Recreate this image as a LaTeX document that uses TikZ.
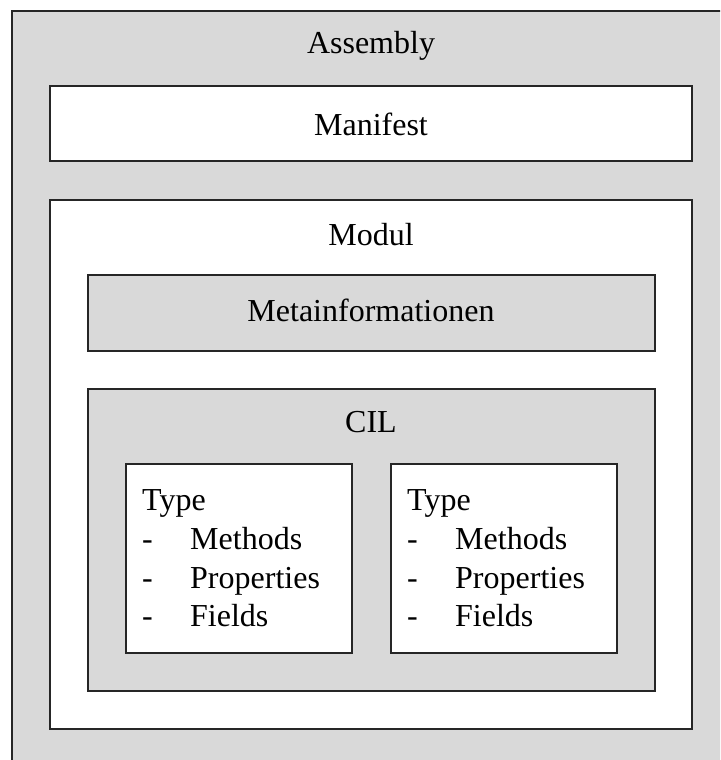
\documentclass[tikz,border=0pt]{standalone}
\usepackage{fontspec}
\setmainfont{Liberation Serif}
\definecolor{boxgray}{HTML}{D9D9D9}
\begin{document}
\begin{tikzpicture}[x=1pt,y=-1pt,
  graybox/.style={draw=black!85,line width=1.3pt,fill=boxgray},
  whitebox/.style={draw=black!85,line width=1.3pt,fill=white},
  lbl/.style={font=\fontsize{32}{38}\selectfont,anchor=base,inner sep=0pt},
  llbl/.style={font=\fontsize{32}{38}\selectfont,anchor=base west,inner sep=0pt}]
\useasboundingbox (0,0) rectangle (720,760);
\fill[white] (0,0) rectangle (720,760);
\begin{scope}
\clip (0,0) rectangle (720,760);
\draw[graybox] (12,11) rectangle (740,780);
\end{scope}
\node[lbl] (assembly) at (371,54) {Assembly};
\draw[whitebox] (50,86) rectangle (692,161);
\node[lbl] (manifest) at (371,135) {Manifest};
\draw[whitebox] (50,200) rectangle (692,729);
\node[lbl] (modul) at (371,245) {Modul};
\draw[graybox] (88,275) rectangle (655,351);
\node[lbl] (meta) at (371,321) {Metainformationen};
\draw[graybox] (88,389) rectangle (655,691);
\node[lbl] (cil) at (371,432) {CIL};
\draw[whitebox] (126,464) rectangle (352,653);
\draw[whitebox] (391,464) rectangle (617,653);
\foreach \n/\x in {a/142,b/407}{
  \node[llbl] (type\n) at (\x,510) {Type};
  \node[llbl] (d1\n) at (\x,549) {-};
  \node[llbl] (d2\n) at (\x,588) {-};
  \node[llbl] (d3\n) at (\x,626) {-};
  \node[llbl] (m\n) at (\x+48,549) {Methods};
  \node[llbl] (p\n) at (\x+48,588) {Properties};
  \node[llbl] (f\n) at (\x+48,626) {Fields};
}
\end{tikzpicture}
\end{document}
